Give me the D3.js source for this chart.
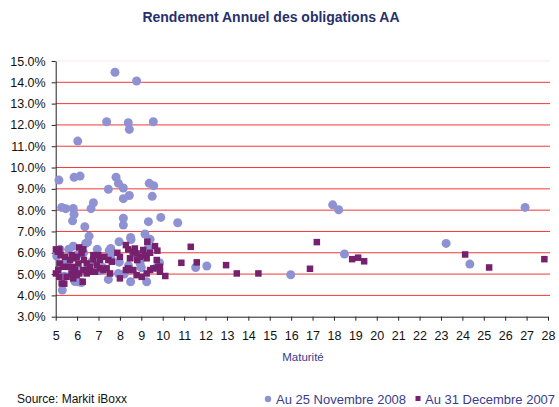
<!DOCTYPE html>
<html><head><meta charset="utf-8">
<script src="https://cdn.jsdelivr.net/npm/d3@7"></script>
<style>body{margin:0;background:#fff;}svg{display:block;font-family:"Liberation Sans",Arial,sans-serif;}</style>
</head><body>
<script>
const title = "Rendement Annuel des obligations AA";
const xLabel = "Maturité";
const source = "Source: Markit iBoxx";
const seriesNames = ["Au 25 Novembre 2008", "Au 31 Decembre 2007"];
const xTicks = d3.range(5, 29);
const yTicks = [3,4,5,6,7,8,9,10,11,12,13,14,15];

// [maturity (years), yield (%)]
const nov2008 = [
 [5.15,9.41],[5.86,9.54],[6.14,9.60],[5.28,8.13],[5.47,8.07],[5.82,8.08],[5.86,7.80],[5.79,7.50],
 [6.36,7.22],[6.65,8.07],[6.76,8.35],[7.46,8.98],[6.03,11.24],[7.77,14.47],[8.78,14.06],[7.38,12.15],
 [8.39,12.10],[8.44,11.79],[9.56,12.15],[7.82,9.55],[7.93,9.26],[8.16,9.04],[9.37,9.26],[9.58,9.15],
 [9.51,8.65],[8.44,8.69],[8.16,8.54],[8.16,7.62],[8.16,7.30],[9.33,7.46],[9.91,7.66],[10.70,7.41],
 [17.94,8.25],[18.22,8.02],[18.49,5.94],[11.54,5.31],[12.06,5.38],[15.98,4.97],[23.24,6.44],[24.35,5.47],[26.93,8.13],
 [6.56,6.78],[6.49,6.50],[6.40,6.44],[5.82,6.31],[5.61,6.16],[5.20,6.16],[6.94,6.16],[7.57,6.20],
 [7.54,5.94],[7.96,6.52],[8.50,6.72],[8.52,6.62],[9.17,6.88],[9.41,6.63],[9.33,6.25],[7.19,5.31],
 [7.93,5.03],[7.46,4.75],[8.50,4.64],[9.25,4.64],[6.06,4.64],[5.87,4.72],[5.31,4.25],[7.10,5.16],
 [7.97,5.56],[8.94,5.50],[5.75,5.03],[9.85,5.53],[9.70,5.30],[5.05,5.85],[5.50,5.50],[6.10,5.20],
 [5.40,4.90],[6.20,4.60],[6.30,6.00],[7.60,5.70],[8.20,5.00],[8.70,5.80],[9.00,5.30],[7.50,6.10],
 [6.00,5.90],[5.90,4.65],[6.70,5.60],[8.40,5.40],[9.10,5.90]
];
const dec2007 = [
 [5.01,6.16],[5.17,6.16],[5.23,5.89],[5.43,5.81],[5.67,5.66],[5.75,5.89],[5.82,5.74],[5.98,5.81],
 [6.10,6.25],[6.29,6.16],[6.21,5.97],[6.32,5.66],[6.45,5.50],[6.60,5.34],[6.76,5.69],[6.76,5.89],
 [6.99,5.89],[7.07,5.66],[7.27,5.81],[7.46,5.66],[7.62,5.58],[7.88,6.00],[8.00,5.81],[8.28,6.36],
 [8.39,6.16],[8.47,5.74],[8.60,6.05],[8.70,6.20],[8.78,5.97],[8.81,5.66],[8.94,5.81],[9.09,6.13],
 [9.17,5.89],[9.25,5.74],[9.28,6.52],[9.41,6.00],[9.64,6.31],[9.75,6.10],[9.72,5.66],[9.87,5.34],
 [10.12,4.91],[10.87,5.53],[11.31,6.28],[11.59,5.55],[12.96,5.42],[13.46,5.03],[14.47,5.03],[16.88,5.25],
 [17.20,6.50],[18.85,5.70],[19.13,5.77],[19.41,5.60],[24.13,5.92],[25.25,5.31],[27.83,5.70],
 [5.01,5.03],[5.17,4.87],[5.28,4.56],[5.51,4.87],[5.75,5.03],[5.90,5.19],[6.10,5.03],[6.26,4.64],
 [6.45,5.03],[6.68,5.11],[6.84,5.11],[7.23,5.19],[7.54,5.03],[8.00,4.80],[8.28,5.19],[8.39,5.27],
 [8.78,4.95],[9.02,4.87],[9.25,5.03],[9.41,5.19],[9.56,5.27],[9.79,5.34],[9.87,5.11],[8.47,5.19],
 [8.63,5.19],[7.38,5.27],[5.20,5.50],[5.36,5.34],[5.59,5.34],[5.82,5.34],[6.06,5.50],[6.29,5.19],
 [6.52,5.19],[5.12,5.19],[5.98,4.95],[5.82,4.80],[6.92,5.42],[7.07,5.27],[5.40,4.55],[5.10,6.05]
];

const W = 559, H = 407;
const svg = d3.select("body").append("svg").attr("width", W).attr("height", H);
const x = d3.scaleLinear().domain([5, 28]).range([55.7, 548]);
const y = d3.scaleLinear().domain([3, 15]).range([316.7, 61]);

// title
svg.append("text").attr("x", 271).attr("y", 22).attr("text-anchor", "middle")
  .attr("font-size", 14).attr("font-weight", "bold").attr("fill", "#26306c").text(title);

// gridlines
svg.append("g").selectAll("line").data(yTicks.filter(d => d > 3)).join("line")
  .attr("x1", x(5)).attr("x2", x(28) + 2)
  .attr("y1", d => y(d)).attr("y2", d => y(d))
  .attr("stroke", "#ee2222").attr("stroke-width", 1)
  .attr("stroke-opacity", d => d === 15 ? 0.12 : 0.9);

// axes
const yAxis = svg.append("g").attr("transform", `translate(${x(5)},0)`)
  .call(d3.axisLeft(y).tickValues(yTicks).tickFormat(d => d.toFixed(1) + "%").tickSize(4).tickPadding(6).tickSizeOuter(0));
const xAxis = svg.append("g").attr("transform", `translate(0,${y(3)})`)
  .call(d3.axisBottom(x).tickValues(xTicks).tickFormat(d3.format("d")).tickSize(4).tickPadding(10).tickSizeOuter(0));
[yAxis, xAxis].forEach(g => {
  g.selectAll("text").attr("font-size", 12.5).attr("fill", "#111").attr("font-family", "Liberation Sans, Arial, sans-serif");
  g.selectAll("line,path").attr("stroke", "#222");
});

// points
const circColor = "#8f92d2", sqColor = "#76206e";
svg.append("g").selectAll("circle").data(nov2008).join("circle")
  .attr("cx", d => x(d[0])).attr("cy", d => y(d[1])).attr("r", 4.5).attr("fill", circColor);
const s = 6.5;
svg.append("g").selectAll("rect").data(dec2007).join("rect")
  .attr("x", d => x(d[0]) - s/2).attr("y", d => y(d[1]) - s/2).attr("width", s).attr("height", s).attr("fill", sqColor);

// x label
svg.append("text").attr("x", 303).attr("y", 361).attr("text-anchor", "middle")
  .attr("font-size", 11.5).attr("fill", "#3b3b8c").text(xLabel);

// source
svg.append("text").attr("x", 17).attr("y", 403).attr("font-size", 12).attr("fill", "#111").text(source);

// legend
const lg = svg.append("g");
lg.append("circle").attr("cx", 268).attr("cy", 399).attr("r", 3.2).attr("fill", circColor);
lg.append("text").attr("x", 276).attr("y", 404).attr("font-size", 13).attr("fill", "#3b3b8c").text(seriesNames[0]);
lg.append("rect").attr("x", 415.5).attr("y", 396).attr("width", 5).attr("height", 5).attr("fill", sqColor);
lg.append("text").attr("x", 425).attr("y", 404).attr("font-size", 13).attr("fill", "#3b3b8c").text(seriesNames[1]);
</script>
</body></html>
